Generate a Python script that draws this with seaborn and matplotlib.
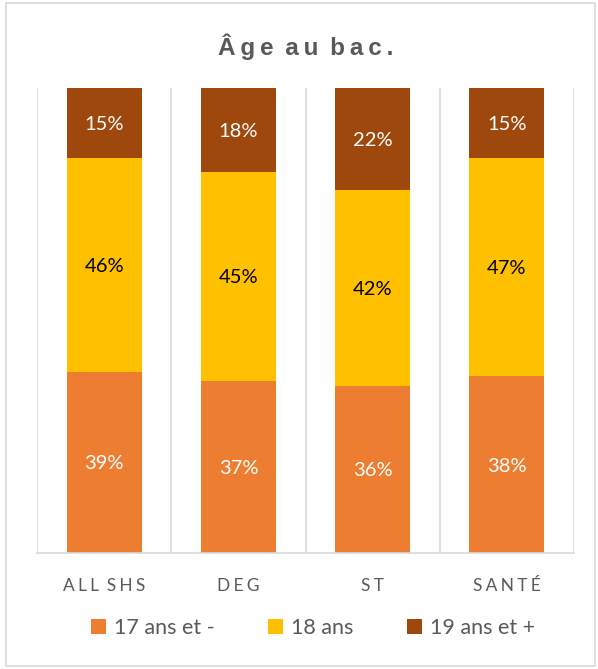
import numpy as np
import pandas as pd
import matplotlib
matplotlib.use("Agg")
import matplotlib.pyplot as plt
from matplotlib.patches import Patch, Rectangle
import seaborn as sns

# données (parts en %)
categories = ["ALL SHS", "DEG", "ST", "SANTÉ"]
ans_17 = [39, 37, 36, 38]
ans_18 = [46, 45, 42, 47]
ans_19 = [15, 18, 22, 15]
series_names = ["17 ans et -", "18 ans", "19 ans et +"]
colors = ["#ED7D31", "#FFC000", "#9E480E"]
label_colors = ["white", "black", "white"]

sns.set_style("white")
plt.rcParams["font.family"] = ["Lato", "DejaVu Sans"]

THIN = "\u2009"
HAIR = "\u200a"


def spaced(s, sep):
    # espacement des lettres façon Excel
    return sep.join(list(s)).replace(sep + " " + sep, " " + sep)


df = pd.DataFrame({"cat": categories,
                   "s17": np.array(ans_17) / 100,
                   "s18": np.array(ans_18) / 100,
                   "s19": np.array(ans_19) / 100})
df["c17"] = df["s17"]
df["c18"] = df["s17"] + df["s18"]
df["c19"] = df["c18"] + df["s19"]

fig = plt.figure(figsize=(5.98, 6.69), dpi=100)
ax = fig.add_axes([37 / 598, (669 - 553) / 669, (574 - 37) / 598, (553 - 88) / 669])

# barres empilées : on dessine les cumuls du plus grand au plus petit
for col, c in zip(["c19", "c18", "c17"], colors[::-1]):
    sns.barplot(data=df, x="cat", y=col, color=c, width=0.56,
                saturation=1, ax=ax, edgecolor="none")

# étiquettes des valeurs
for i, row in df.iterrows():
    bottoms = [0, row["c17"], row["c18"]]
    vals = [row["s17"], row["s18"], row["s19"]]
    for b, v, tc in zip(bottoms, vals, label_colors):
        ax.text(i, b + v / 2, f"{round(v * 100)}%", ha="center",
                va="center_baseline", color=tc, fontsize=14.5)

ax.set_xlim(-0.5, len(categories) - 0.5)
ax.set_ylim(0, 1)
ax.set_xlabel("")
ax.set_ylabel("")
ax.set_yticks([])
for x in np.arange(-0.5, len(categories), 1.0):
    ax.axvline(x, color="#D9D9D9", lw=1.2, zorder=0)
for s in ["top", "left", "right"]:
    ax.spines[s].set_visible(False)
ax.spines["bottom"].set_color("#D9D9D9")
ax.spines["bottom"].set_linewidth(1.2)
ax.set_xticks(range(len(categories)))
ax.set_xticklabels([spaced(c, THIN + HAIR) for c in categories],
                   fontsize=12.5, color="#595959")
ax.tick_params(axis="x", length=0, pad=18)

fig.text(306 / 598, (669 - 47) / 669, spaced("Âge au bac.", THIN), ha="center", va="center",
         fontsize=17.5, fontweight="bold", color="#595959",
         family=["Liberation Sans", "DejaVu Sans"])

handles = [Patch(facecolor=c, edgecolor="none") for c in colors]
fig.legend(handles, series_names, loc="center", ncol=3,
           bbox_to_anchor=(313 / 598, (669 - 628) / 669), frameon=False,
           fontsize=15.5, handlelength=0.7, handleheight=0.7,
           handletextpad=0.35, columnspacing=2.5, labelcolor="#595959")

# cadre du graphique
fig.patches.append(Rectangle((6 / 598, 3 / 669), 589 / 598, 663 / 669,
                             transform=fig.transFigure, fill=False,
                             edgecolor="#D9D9D9", lw=1.2))

fig.savefig("out.png", dpi=100)
